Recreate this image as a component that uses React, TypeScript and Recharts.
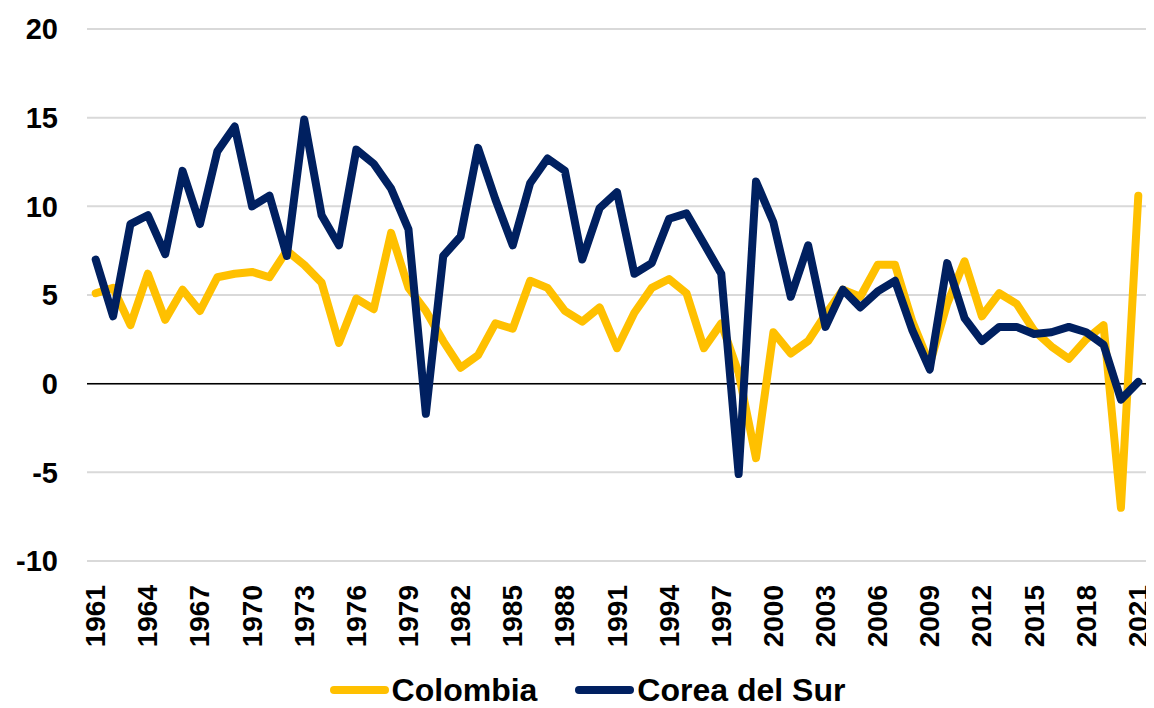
import React from 'react';
import { LineChart, Line, XAxis, YAxis, CartesianGrid, Legend, ReferenceLine } from 'recharts';

const years = [
  1961, 1962, 1963, 1964, 1965, 1966, 1967, 1968, 1969, 1970,
  1971, 1972, 1973, 1974, 1975, 1976, 1977, 1978, 1979, 1980,
  1981, 1982, 1983, 1984, 1985, 1986, 1987, 1988, 1989, 1990,
  1991, 1992, 1993, 1994, 1995, 1996, 1997, 1998, 1999, 2000,
  2001, 2002, 2003, 2004, 2005, 2006, 2007, 2008, 2009, 2010,
  2011, 2012, 2013, 2014, 2015, 2016, 2017, 2018, 2019, 2020, 2021,
];

const colombia = [
  5.1, 5.4, 3.3, 6.2, 3.6, 5.3, 4.1, 6.0, 6.2, 6.3,
  6.0, 7.5, 6.7, 5.7, 2.3, 4.8, 4.2, 8.5, 5.4, 4.1,
  2.4, 0.9, 1.6, 3.4, 3.1, 5.8, 5.4, 4.1, 3.5, 4.3,
  2.0, 4.0, 5.4, 5.9, 5.1, 2.0, 3.4, 0.6, -4.2, 2.9,
  1.7, 2.4, 3.9, 5.3, 4.9, 6.7, 6.7, 3.5, 1.1, 4.5,
  6.9, 3.8, 5.1, 4.5, 3.0, 2.1, 1.4, 2.5, 3.3, -7.0, 10.6,
];

const corea = [
  7.0, 3.8, 9.0, 9.5, 7.3, 12.0, 9.0, 13.1, 14.5, 10.0,
  10.6, 7.2, 14.9, 9.5, 7.8, 13.2, 12.4, 11.0, 8.7, -1.7,
  7.2, 8.3, 13.3, 10.4, 7.8, 11.3, 12.7, 12.0, 7.0, 9.9,
  10.8, 6.2, 6.8, 9.3, 9.6, 7.9, 6.2, -5.1, 11.4, 9.1,
  4.9, 7.8, 3.2, 5.3, 4.3, 5.2, 5.8, 3.0, 0.8, 6.8,
  3.7, 2.4, 3.2, 3.2, 2.8, 2.9, 3.2, 2.9, 2.2, -0.9, 0.1,
];

const yTicks = [-10, -5, 0, 5, 10, 15, 20];

const data = years.map((y, i) => ({ year: y, colombia: colombia[i], corea: corea[i] }));

const FONT = '"Liberation Sans", Arial, sans-serif';
const YELLOW = '#FFC000';
const NAVY = '#002060';

const XTick = (props: any) => {
  const { x, y, payload } = props;
  return (
    <g transform={`translate(${x},${y})`}>
      <text
        transform="rotate(-90)"
        x={-16}
        y={0}
        textAnchor="end"
        dominantBaseline="central"
        fontFamily={FONT}
        fontWeight="bold"
        fontSize={28}
        fill="#000"
      >
        {payload.value}
      </text>
    </g>
  );
};

const LegendContent = () => {
  const items = [
    { label: 'Colombia', color: YELLOW },
    { label: 'Corea del Sur', color: NAVY },
  ];
  return (
    <div
      style={{
        display: 'flex',
        justifyContent: 'center',
        alignItems: 'center',
        height: 36,
        paddingLeft: 20,
        fontFamily: FONT,
        fontWeight: 'bold',
        fontSize: 32,
        color: '#000',
      }}
    >
      {items.map((it, i) => (
        <div key={it.label} style={{ display: 'flex', alignItems: 'center', marginLeft: i ? 38 : 0 }}>
          <span style={{ display: 'inline-block', width: 59, height: 8, borderRadius: 4, background: it.color, marginRight: 3 }} />
          <span>{it.label}</span>
        </div>
      ))}
    </div>
  );
};

export default function App() {
  return (
    <div style={{ width: 1146, height: 700 }}>
      <LineChart width={1146} height={700} data={data} margin={{ top: 21, right: 7, bottom: 0, left: 0 }}>
        <CartesianGrid vertical={false} stroke="#d9d9d9" strokeWidth={2} />
        <XAxis
          dataKey="year"
          interval={2}
          axisLine={false}
          tickLine={false}
          height={111}
          padding={{ left: 8.7, right: 8.7 }}
          tick={<XTick />}
        />
        <YAxis
          domain={[-10, 20]}
          ticks={yTicks}
          width={79}
          axisLine={false}
          tickLine={false}
          tickMargin={23}
          tick={{ fontFamily: FONT, fontWeight: 'bold', fontSize: 29, fill: '#000' }}
        />
        <ReferenceLine y={0} stroke="#000" strokeWidth={1.5} />
        <Legend verticalAlign="bottom" content={<LegendContent />} />
        <Line
          type="linear"
          dataKey="colombia"
          stroke={YELLOW}
          strokeWidth={8}
          strokeLinejoin="round"
          strokeLinecap="round"
          dot={false}
          isAnimationActive={false}
        />
        <Line
          type="linear"
          dataKey="corea"
          stroke={NAVY}
          strokeWidth={8}
          strokeLinejoin="round"
          strokeLinecap="round"
          dot={false}
          isAnimationActive={false}
        />
      </LineChart>
    </div>
  );
}
